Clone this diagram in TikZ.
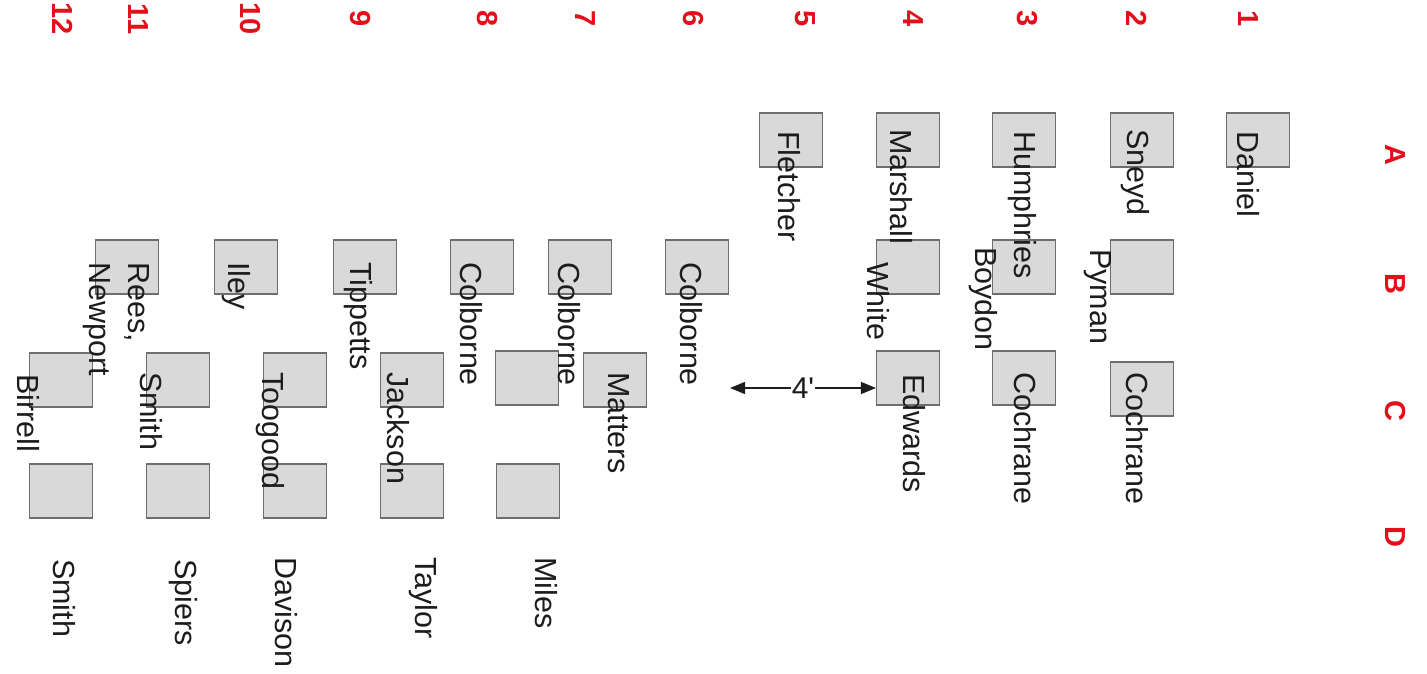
\documentclass[tikz,border=0pt]{standalone}
\usepackage{fontspec}
\setmainfont{Liberation Sans}
\usetikzlibrary{arrows.meta}
\definecolor{boxfill}{HTML}{D9D9D9}
\definecolor{boxline}{HTML}{6E6E6E}
\definecolor{labred}{HTML}{E3101C}
\definecolor{txtcol}{HTML}{1C1C1C}
\begin{document}
\begin{tikzpicture}[x=1pt,y=-1pt,
  seat/.style={draw=boxline, fill=boxfill, line width=1.1pt, minimum width=63pt, minimum height=54pt, inner sep=0pt},
  nm/.style={rotate=-90, anchor=base west, inner sep=0pt, text=txtcol, font=\fontsize{30.5}{34}\selectfont},
  gridlab/.style={rotate=-90, anchor=center, inner sep=0pt, text=labred, font=\fontsize{29}{32}\selectfont\bfseries},
  dimarrow/.style={{Triangle[length=15pt,width=12pt]}-{Triangle[length=15pt,width=12pt]}, line width=1.3pt, draw=txtcol}
]
\useasboundingbox (0,0) rectangle (1427,674);
% column numbers
\node[gridlab] (n1) at (1248,19) {1};
\node[gridlab] (n2) at (1137,19) {2};
\node[gridlab] (n3) at (1027,19) {3};
\node[gridlab] (n4) at (913,19) {4};
\node[gridlab] (n5) at (805,19) {5};
\node[gridlab] (n6) at (693,19) {6};
\node[gridlab] (n7) at (585,19) {7};
\node[gridlab] (n8) at (487,19) {8};
\node[gridlab] (n9) at (360,19) {9};
\node[gridlab] (n10) at (250,19) {10};
\node[gridlab] (n11) at (138,19) {11};
\node[gridlab] (n12) at (63,19) {12};
% row letters
\node[gridlab] (rA) at (1395,155) {A};
\node[gridlab] (rB) at (1395,284) {B};
\node[gridlab] (rC) at (1395,411) {C};
\node[gridlab] (rD) at (1395,537) {D};
% seats row A
\node[seat] (b1A) at (1258,140) {};
\node[seat] (b2A) at (1142,140) {};
\node[seat] (b3A) at (1024,140) {};
\node[seat] (b4A) at (908,140) {};
\node[seat] (b5A) at (791,140) {};
% seats row B
\node[seat] (b2B) at (1142,267) {};
\node[seat] (b3B) at (1024,267) {};
\node[seat] (b4B) at (908,267) {};
\node[seat] (b6B) at (697,267) {};
\node[seat] (b7B) at (580,267) {};
\node[seat] (b8B) at (482,267) {};
\node[seat] (b9B) at (365,267) {};
\node[seat] (b10B) at (246,267) {};
\node[seat] (b11B) at (127,267) {};
% seats row C
\node[seat] (b2C) at (1142,389) {};
\node[seat] (b3C) at (1024,378) {};
\node[seat] (b4C) at (908,378) {};
\node[seat] (b6C) at (615,380) {};
\node[seat] (b7C) at (527,378) {};
\node[seat] (b9C) at (412,380) {};
\node[seat] (b10C) at (295,380) {};
\node[seat] (b11C) at (178,380) {};
\node[seat] (b12C) at (61,380) {};
% seats row D
\node[seat] (b7D) at (528,491) {};
\node[seat] (b9D) at (412,491) {};
\node[seat] (b10D) at (295,491) {};
\node[seat] (b11D) at (178,491) {};
\node[seat] (b12D) at (61,491) {};
% names
\node[nm] (tDaniel) at (1237,131) {Daniel};
\node[nm] (tSneyd) at (1127,129) {Sneyd};
\node[nm] (tHumphries) at (1014,131) {Humphries};
\node[nm] (tMarshall) at (890,129) {Marshall};
\node[nm] (tFletcher) at (778,131) {Fletcher};
\node[nm] (tPyman) at (1090,249) {Pyman};
\node[nm] (tBoydon) at (975,247) {Boydon};
\node[nm] (tWhite) at (867,262) {White};
\node[nm] (tColborneA) at (680,262) {Colborne};
\node[nm] (tColborneB) at (558,262) {Colborne};
\node[nm] (tColborneC) at (460,262) {Colborne};
\node[nm] (tTippetts) at (350,262) {Tippetts};
\node[nm] (tIley) at (228,262) {Iley};
\node[nm] (tRees) at (128,262) {Rees,};
\node[nm] (tNewport) at (89,262) {Newport};
\node[nm] (tCochraneA) at (1126,372) {Cochrane};
\node[nm] (tCochraneB) at (1014,372) {Cochrane};
\node[nm] (tEdwards) at (903,374) {Edwards};
\node[nm] (tMatters) at (608,372) {Matters};
\node[nm] (tJackson) at (387,372) {Jackson};
\node[nm] (tToogood) at (262,372) {Toogood};
\node[nm] (tSmithA) at (140,372) {Smith};
\node[nm] (tBirrell) at (17,374) {Birrell};
\node[nm] (tMiles) at (535,557) {Miles};
\node[nm] (tTaylor) at (415,557) {Taylor};
\node[nm] (tDavison) at (275,557) {Davison};
\node[nm] (tSpiers) at (175,559) {Spiers};
\node[nm] (tSmithB) at (53,559) {Smith};
% dimension arrow
\coordinate (arrL) at (730,388);
\draw[dimarrow] (arrL) -- (arrL -| b4C.west)
  node[midway, fill=white, inner sep=1pt, text=txtcol, font=\fontsize{30}{34}\selectfont] (dimlab) {4\textquotesingle};
\end{tikzpicture}
\end{document}
